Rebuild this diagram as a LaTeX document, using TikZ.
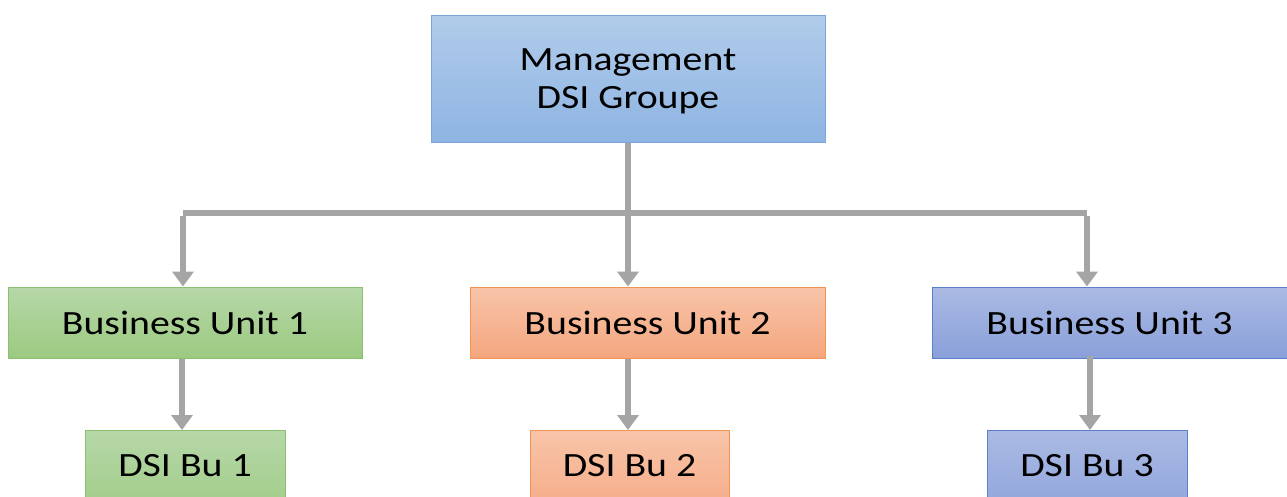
\documentclass[tikz,border=0pt]{standalone}
\usepackage{fontspec}
\setmainfont{Carlito}[FakeStretch=1.17]
\usetikzlibrary{arrows.meta}
\definecolor{linkgray}{HTML}{A5A5A5}
\definecolor{mgTop}{HTML}{B1CCEA}
\definecolor{mgBot}{HTML}{8EB4E3}
\definecolor{mgLine}{HTML}{7AA6DC}
\definecolor{grTop}{HTML}{B6D7A8}
\definecolor{grBot}{HTML}{9CCA80}
\definecolor{grLine}{HTML}{8BC06E}
\definecolor{orTop}{HTML}{F8C4A9}
\definecolor{orBot}{HTML}{F4A67E}
\definecolor{orLine}{HTML}{F19454}
\definecolor{blTop}{HTML}{AABAE3}
\definecolor{blBot}{HTML}{8AA0DA}
\definecolor{blLine}{HTML}{5B7FCB}
\tikzset{
  unitbox/.style={rectangle, line width=1pt, inner sep=0pt, align=center,
    font=\fontsize{34}{40}\selectfont},
  mgbox/.style={unitbox, draw=mgLine, top color=mgTop, bottom color=mgBot},
  grbox/.style={unitbox, draw=grLine, top color=grTop, bottom color=grBot},
  orbox/.style={unitbox, draw=orLine, top color=orTop, bottom color=orBot},
  blbox/.style={unitbox, draw=blLine, top color=blTop, bottom color=blBot},
  link/.style={draw=linkgray, line width=6pt},
  arrowlink/.style={link, -{Triangle[width=21pt,length=15pt]}},
}
\begin{document}
\begin{tikzpicture}[x=1pt,y=-1pt]
\useasboundingbox (0,0) rectangle (1287,496);
\clip (0,0) rectangle (1287,496);
% top management box
\node[mgbox, minimum width=394pt, minimum height=127pt] (mg) at (628,78.5)
  {\raisebox{-3pt}[\height][\depth]{\shortstack{Management\\[7pt]DSI Groupe}}};
% business units
\node[grbox, minimum width=354pt, minimum height=71pt] (bu1) at (185,322.5) {Business Unit 1};
\node[orbox, minimum width=355pt, minimum height=71pt] (bu2) at (647.5,322.5) {Business Unit 2};
\node[blbox, minimum width=355pt, minimum height=71pt] (bu3) at (1109.5,322.5) {Business Unit 3};
% DSI of each business unit
\node[grbox, minimum width=200pt, minimum height=100pt, anchor=north] (d1) at (185,430)
  {\raisebox{31pt}{DSI Bu 1}};
\node[orbox, minimum width=199pt, minimum height=100pt, anchor=north] (d2) at (629.5,430)
  {\raisebox{31pt}{DSI Bu 2}};
\node[blbox, minimum width=200pt, minimum height=100pt, anchor=north] (d3) at (1087,430)
  {\raisebox{31pt}{DSI Bu 3}};
% connector geometry
\coordinate (busL) at (183,213);
\coordinate (busR) at (1087,213);
% trunk and distribution bus
\draw[arrowlink] (mg.south -| 628,0) -- (bu2.north -| 628,0);
\draw[link] (busL) -- (busR);
\draw[arrowlink] ([yshift=-3pt]busL) -- (bu1.north -| busL);
\draw[arrowlink] ([yshift=-3pt]busR) -- (bu3.north -| busR);
% unit to DSI links
\draw[arrowlink] (bu1.south -| 182,0) -- (d1.north -| 182,0);
\draw[arrowlink] (bu2.south -| 628,0) -- (d2.north -| 628,0);
\draw[arrowlink] ([yshift=3pt]bu3.south -| 1090,0) -- (d3.north -| 1090,0);
\end{tikzpicture}
\end{document}
